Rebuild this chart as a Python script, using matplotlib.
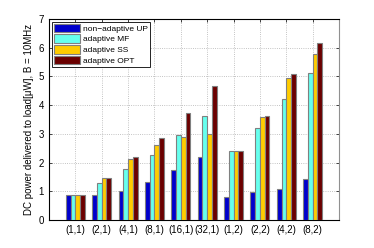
import matplotlib.pyplot as plt
import numpy as np

groups = ["(1,1)", "(2,1)", "(4,1)", "(8,1)", "(16,1)", "(32,1)", "(1,2)", "(2,2)", "(4,2)", "(8,2)"]
up = [0.88, 0.86, 1.00, 1.31, 1.74, 2.18, 0.81, 0.98, 1.09, 1.42]
mf = [0.88, 1.28, 1.77, 2.28, 2.95, 3.61, 2.39, 3.19, 4.21, 5.11]
ss = [0.88, 1.45, 2.13, 2.62, 2.90, 2.99, 2.39, 3.58, 4.94, 5.77]
opt = [0.88, 1.45, 2.20, 2.87, 3.72, 4.67, 2.39, 3.61, 5.07, 6.16]
labels = ["non\u2212adaptive UP", "adaptive MF", "adaptive SS", "adaptive OPT"]
colors = ["#0000CC", "#66FFEE", "#FFCC00", "#6B0000"]

plt.rcParams["font.family"] = "Liberation Sans"
fig = plt.figure(figsize=(3.74, 2.48), dpi=100)
ax = fig.add_axes([49 / 374, 1 - 220 / 248, 290 / 374, 201 / 248])

x = np.arange(1, len(groups) + 1)
w = 0.18
for i, vals in enumerate([up, mf, ss, opt]):
    ax.bar(x + (i - 1.5) * w, vals, w, color=colors[i], edgecolor="#808080",
           linewidth=0.8, label=labels[i], zorder=3)

ax.set_xlim(0, 11)
ax.set_ylim(0, 7)
ax.set_xticks(x)
ax.set_xticklabels(groups)
ax.set_yticks(range(8))
ax.tick_params(direction="in", labelsize=7, length=2, width=0.5, top=True, right=True)
ax.grid(True, linestyle=":", color="#b0b0b0", linewidth=0.6, zorder=0)
for s in ax.spines.values():
    s.set_linewidth(0.8)
ax.spines["right"].set_color("#909090")
ax.set_ylabel("DC power delivered to load[\u03bcW], B = 10MHz", fontsize=7, labelpad=3)
leg = ax.legend(loc="upper left", fontsize=6, fancybox=False, edgecolor="black",
                framealpha=1, handlelength=3.2, handleheight=1.2,
                borderpad=0.25, labelspacing=0.2, handletextpad=0.3,
                borderaxespad=0.3)
leg.get_frame().set_linewidth(0.6)
fig.savefig("out.png", dpi=100)
